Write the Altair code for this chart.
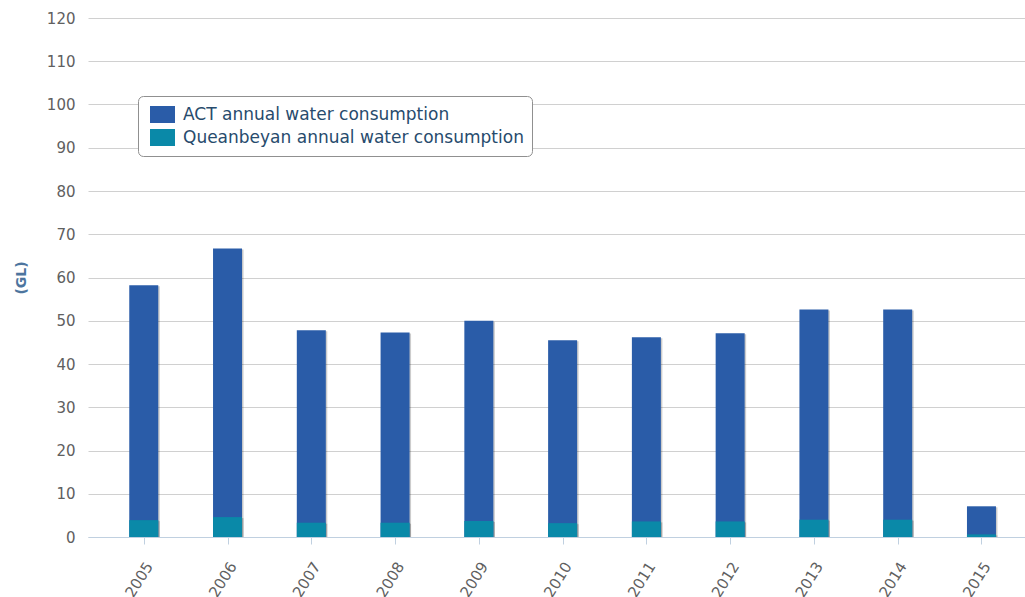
import altair as alt
import pandas as pd

# Annual water consumption, gigalitres
years = [2005, 2006, 2007, 2008, 2009, 2010, 2011, 2012, 2013, 2014, 2015]
act = [58.2, 66.7, 47.8, 47.3, 50.0, 45.5, 46.2, 47.1, 52.6, 52.6, 7.1]
queanbeyan = [3.9, 4.6, 3.3, 3.3, 3.7, 3.2, 3.6, 3.6, 4.0, 4.0, 0.6]

series_names = ["ACT annual water consumption", "Queanbeyan annual water consumption"]
series_colors = ["#2a5ca8", "#0a89a8"]

rows = []
for name, vals in zip(series_names, [act, queanbeyan]):
    for y, v in zip(years, vals):
        rows.append({"year": y, "series": name, "value": v})
df = pd.DataFrame(rows)

font = "DejaVu Sans"

x_scale = alt.Scale(domain=[2004.394, 2015.46], nice=False, zero=False)
x_axis = alt.Axis(
    values=years, format="d", labelAngle=-58, labelAlign="right",
    labelBaseline="middle", labelFontSize=15, labelColor="#606060",
    labelFont=font, labelPadding=19, labelOffset=5, grid=False,
    domainColor="#C0D0E0", tickColor="#C0D0E0", tickSize=7, title=None,
)
y_scale = alt.Scale(domain=[0, 120], nice=False)
y_axis = alt.Axis(
    values=list(range(0, 121, 10)), labelFontSize=15, labelColor="#606060",
    labelFont=font, labelPadding=13, grid=True, gridColor="#D0D0D0",
    domain=False, ticks=False, title="(GL)",
    titleFont=font, titleFontSize=14, titleFontWeight="bold",
    titleColor="#4d759e", titlePadding=18,
)

# soft drop shadow behind each bar
shadow = alt.Chart(df).mark_bar(
    size=29, color="#000000", opacity=0.2, xOffset=1.5, yOffset=1
).encode(
    x=alt.X("year:Q", scale=x_scale, axis=x_axis),
    y=alt.Y("value:Q", stack=None, scale=y_scale, axis=y_axis),
)

bars = alt.Chart(df).mark_bar(size=29).encode(
    x=alt.X("year:Q", scale=x_scale, axis=x_axis),
    y=alt.Y("value:Q", stack=None, scale=y_scale, axis=y_axis),
    color=alt.Color(
        "series:N",
        scale=alt.Scale(domain=series_names, range=series_colors),
        sort=series_names,
        legend=alt.Legend(
            title=None, orient="none", legendX=50, legendY=78,
            fillColor="white", strokeColor="#909090", cornerRadius=5,
            padding=8, symbolType="M-1,-0.68H1V0.68H-1Z", symbolSize=625,
            symbolStrokeWidth=0, symbolOpacity=1, symbolOffset=4,
            labelFont=font, labelFontSize=17, labelColor="#274b6d",
            labelOffset=8, clipHeight=21, rowPadding=2, labelLimit=500,
        ),
    ),
    order=alt.Order("series:N"),
)

chart = (
    alt.layer(shadow, bars)
    .properties(
        width=937, height=519,
        padding={"left": 88, "top": 18, "right": 0, "bottom": 60},
        autosize=alt.AutoSizeParams(type="none"),
        background="white",
    )
    .configure_view(stroke=None, strokeWidth=0)
)

chart.save("out.html", embed_options={"renderer": "svg", "actions": False})
